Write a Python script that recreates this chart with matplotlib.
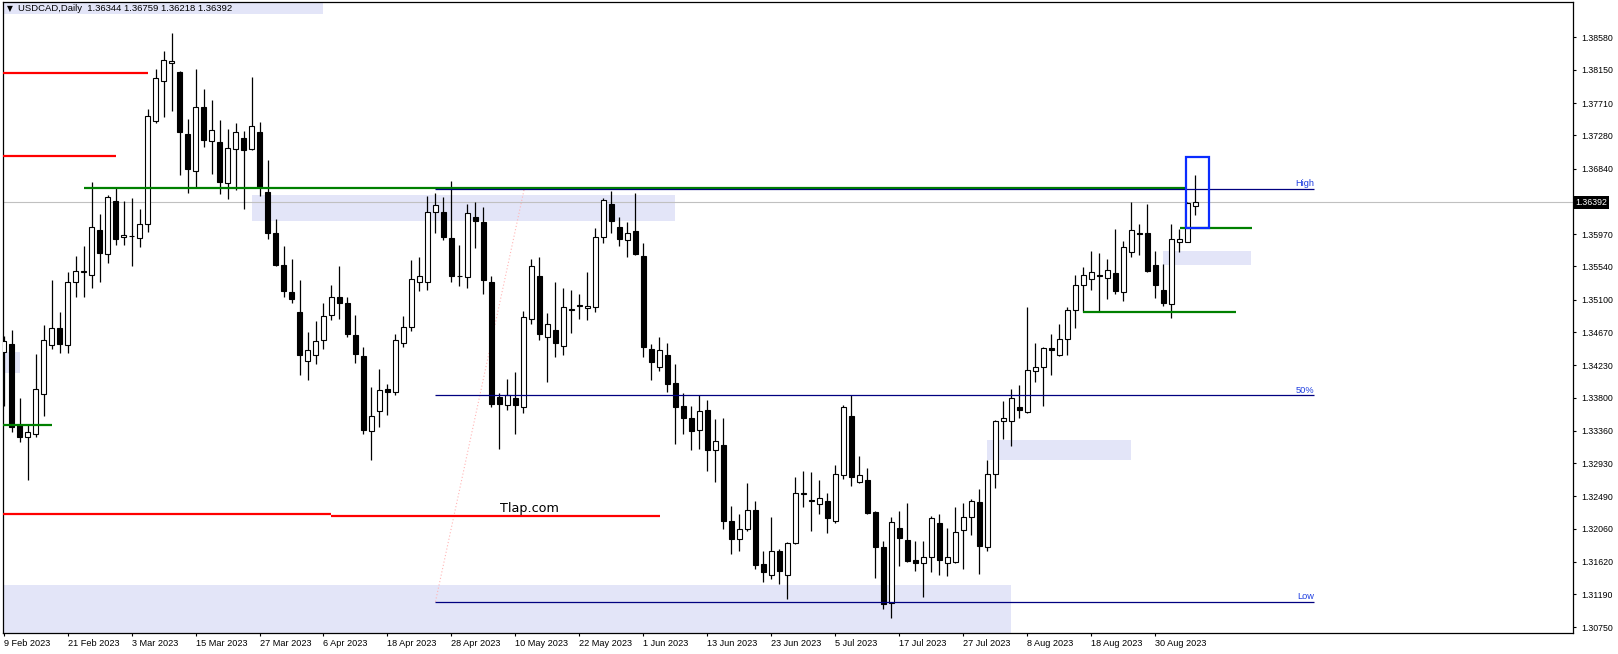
import numpy as np
import pandas as pd
import matplotlib
matplotlib.use("Agg")
import matplotlib.pyplot as plt
from matplotlib.patches import Rectangle
import matplotlib.transforms as mtransforms

plt.rcParams['font.family'] = ['Liberation Sans', 'DejaVu Sans']

# ---- data (USDCAD daily, 150 bars) ----
symbol = "USDCAD,Daily"
dates = pd.bdate_range(end="2023-09-06", periods=150)

opens = [
    1.3440, 1.3451, 1.3343, 1.3328, 1.3331, 1.3385, 1.3450, 1.3473, 1.3450, 1.3534,
    1.3547, 1.3543, 1.3602, 1.3570, 1.3641, 1.3593, 1.3594, 1.3592, 1.3611, 1.3747,
    1.3800, 1.3824, 1.3812, 1.3730, 1.3681, 1.3766, 1.3720, 1.3719, 1.3665, 1.3710,
    1.3725, 1.3710, 1.3732, 1.3653, 1.3598, 1.3556, 1.3520, 1.3494, 1.3429, 1.3437,
    1.3457, 1.3489, 1.3514, 1.3505, 1.3463, 1.3435, 1.3335, 1.3362, 1.3392, 1.3387,
    1.3453, 1.3474, 1.3533, 1.3534, 1.3627, 1.3626, 1.3592, 1.3542, 1.3540, 1.3620,
    1.3613, 1.3534, 1.3381, 1.3370, 1.3379, 1.3367, 1.3484, 1.3542, 1.3461, 1.3470,
    1.3448, 1.3498, 1.3502, 1.3499, 1.3500, 1.3593, 1.3637, 1.3607, 1.3589, 1.3601,
    1.3568, 1.3444, 1.3421, 1.3437, 1.3399, 1.3369, 1.3353, 1.3337, 1.3364, 1.3310,
    1.3317, 1.3216, 1.3192, 1.3206, 1.3231, 1.3159, 1.3144, 1.3177, 1.3145, 1.3187,
    1.3252, 1.3244, 1.3239, 1.3243, 1.3216, 1.3277, 1.3356, 1.3268, 1.3270, 1.3228,
    1.3182, 1.3107, 1.3207, 1.3191, 1.3165, 1.3160, 1.3168, 1.3214, 1.3161, 1.3162,
    1.3204, 1.3222, 1.3242, 1.3182, 1.3278, 1.3349, 1.3349, 1.3367, 1.3361, 1.3415,
    1.3421, 1.3446, 1.3436, 1.3458, 1.3496, 1.3529, 1.3537, 1.3543, 1.3539, 1.3546,
    1.3520, 1.3573, 1.3598, 1.3598, 1.3556, 1.3523, 1.3504, 1.3586, 1.3587, 1.36344,
]
highs = [
    1.3462, 1.3470, 1.3379, 1.3343, 1.3438, 1.3477, 1.3536, 1.3494, 1.3547, 1.3568,
    1.3581, 1.3666, 1.3624, 1.3649, 1.3659, 1.3641, 1.3645, 1.3630, 1.3763, 1.3816,
    1.3840, 1.3864, 1.3814, 1.3750, 1.3816, 1.3789, 1.3775, 1.3748, 1.3737, 1.3744,
    1.3734, 1.3806, 1.3746, 1.3696, 1.3617, 1.3581, 1.3564, 1.3536, 1.3467, 1.3482,
    1.3505, 1.3530, 1.3554, 1.3514, 1.3489, 1.3447, 1.3394, 1.3418, 1.3398, 1.3465,
    1.3488, 1.3562, 1.3566, 1.3647, 1.3651, 1.3646, 1.3668, 1.3582, 1.3637, 1.3639,
    1.3633, 1.3541, 1.3386, 1.3405, 1.3414, 1.3495, 1.3564, 1.3566, 1.3492, 1.3534,
    1.3525, 1.3523, 1.3518, 1.3547, 1.3605, 1.3645, 1.3654, 1.3620, 1.3613, 1.3651,
    1.3585, 1.3451, 1.3460, 1.3452, 1.3425, 1.3386, 1.3369, 1.3383, 1.3377, 1.3351,
    1.3353, 1.3236, 1.3225, 1.3267, 1.3243, 1.3176, 1.3222, 1.3179, 1.3188, 1.3275,
    1.3283, 1.3281, 1.3271, 1.3254, 1.3290, 1.3370, 1.3384, 1.3303, 1.3287, 1.3230,
    1.3190, 1.3222, 1.3229, 1.3240, 1.3190, 1.3190, 1.3223, 1.3225, 1.3207, 1.3235,
    1.3240, 1.3245, 1.3259, 1.3297, 1.3350, 1.3376, 1.3392, 1.3397, 1.3500, 1.3452,
    1.3447, 1.3465, 1.3478, 1.3500, 1.3543, 1.3553, 1.3574, 1.3572, 1.3564, 1.3604,
    1.3588, 1.3639, 1.3611, 1.3637, 1.3575, 1.3557, 1.3611, 1.3604, 1.3639, 1.36759,
]
lows = [
    1.3369, 1.3334, 1.3321, 1.3271, 1.3328, 1.3355, 1.3445, 1.3439, 1.3439, 1.3513,
    1.3514, 1.3526, 1.3533, 1.3559, 1.3583, 1.3582, 1.3555, 1.3580, 1.3600, 1.3744,
    1.3753, 1.3761, 1.3676, 1.3651, 1.3660, 1.3713, 1.3677, 1.3650, 1.3644, 1.3656,
    1.3630, 1.3708, 1.3648, 1.3591, 1.3555, 1.3513, 1.3506, 1.3410, 1.3403, 1.3424,
    1.3445, 1.3483, 1.3484, 1.3460, 1.3426, 1.3331, 1.3297, 1.3341, 1.3357, 1.3383,
    1.3447, 1.3469, 1.3521, 1.3523, 1.3598, 1.3589, 1.3533, 1.3528, 1.3526, 1.3579,
    1.3518, 1.3368, 1.3312, 1.3363, 1.3332, 1.3360, 1.3478, 1.3457, 1.3401, 1.3434,
    1.3437, 1.3466, 1.3484, 1.3483, 1.3494, 1.3585, 1.3599, 1.3581, 1.3567, 1.3569,
    1.3434, 1.3403, 1.3415, 1.3388, 1.3318, 1.3331, 1.3310, 1.3312, 1.3283, 1.3268,
    1.3206, 1.3173, 1.3176, 1.3203, 1.3153, 1.3135, 1.3139, 1.3132, 1.3112, 1.3185,
    1.3235, 1.3203, 1.3226, 1.3200, 1.3213, 1.3272, 1.3262, 1.3266, 1.3226, 1.3140,
    1.3099, 1.3088, 1.3156, 1.3162, 1.3150, 1.3115, 1.3149, 1.3145, 1.3143, 1.3161,
    1.3153, 1.3198, 1.3146, 1.3177, 1.3260, 1.3325, 1.3316, 1.3353, 1.3360, 1.3401,
    1.3369, 1.3410, 1.3435, 1.3437, 1.3473, 1.3494, 1.3523, 1.3494, 1.3511, 1.3518,
    1.3508, 1.3566, 1.3569, 1.3547, 1.3512, 1.3501, 1.3486, 1.3573, 1.3586, 1.36218,
]
closes = [
    1.3455, 1.3341, 1.3328, 1.3334, 1.3392, 1.3456, 1.3473, 1.3451, 1.3533, 1.3548,
    1.3548, 1.3606, 1.3572, 1.3646, 1.3590, 1.3596, 1.3595, 1.3611, 1.3754, 1.3804,
    1.3828, 1.3827, 1.3733, 1.3683, 1.3766, 1.3722, 1.3735, 1.3666, 1.3711, 1.3732,
    1.3709, 1.3740, 1.3660, 1.3599, 1.3556, 1.3521, 1.3511, 1.3436, 1.3443, 1.3455,
    1.3488, 1.3513, 1.3506, 1.3464, 1.3438, 1.3337, 1.3355, 1.3390, 1.3387, 1.3457,
    1.3474, 1.3538, 1.3541, 1.3626, 1.3636, 1.3593, 1.3542, 1.3541, 1.3625, 1.3615,
    1.3536, 1.3372, 1.3372, 1.3384, 1.3370, 1.3487, 1.3555, 1.3465, 1.3478, 1.3453,
    1.3500, 1.3496, 1.3503, 1.3501, 1.3593, 1.3642, 1.3615, 1.3590, 1.3599, 1.3570,
    1.3447, 1.3427, 1.3443, 1.3398, 1.3368, 1.3353, 1.3336, 1.3362, 1.3310, 1.3322,
    1.3216, 1.3192, 1.3206, 1.3231, 1.3158, 1.3148, 1.3177, 1.3150, 1.3187, 1.3254,
    1.3253, 1.3243, 1.3247, 1.3220, 1.3278, 1.3367, 1.3274, 1.3277, 1.3227, 1.3182,
    1.3106, 1.3215, 1.3194, 1.3163, 1.3160, 1.3169, 1.3220, 1.3164, 1.3169, 1.3202,
    1.3221, 1.3243, 1.3183, 1.3278, 1.3349, 1.3353, 1.3379, 1.3364, 1.3416, 1.3421,
    1.3446, 1.3443, 1.3458, 1.3496, 1.3529, 1.3543, 1.3547, 1.3542, 1.3549, 1.3522,
    1.3580, 1.3603, 1.3597, 1.3548, 1.3530, 1.3505, 1.3591, 1.3591, 1.3638, 1.36392,
]

price_ticks = [1.38580, 1.38150, 1.37710, 1.37280, 1.36840, 1.35970, 1.35540,
               1.35100, 1.34670, 1.34230, 1.33800, 1.33360, 1.32930, 1.32490,
               1.32060, 1.31620, 1.31190, 1.30750]

# objects drawn on the chart: (price, from bar, to bar)
red_levels = [(1.3811, -0.1, 18.1), (1.3701, -0.1, 14.1),
              (1.3225, -0.1, 41.0), (1.3223, 41.0, 82.1)]
green_levels = [(1.3658, 10.0, 147.9), (1.3343, -0.1, 6.1),
                (1.3605, 147.1, 156.1), (1.3494, 135.0, 154.1)]
# zones: (from bar, to bar, low price, high price)
zones = [(-0.1, 40.0, 1.3889, 1.3950), (-0.1, 2.0, 1.3413, 1.3440),
         (31.0, 84.0, 1.3615, 1.3649), (-0.1, 126.0, 1.3000, 1.3131),
         (123.0, 141.0, 1.3297, 1.3324), (145.0, 156.0, 1.3556, 1.3574)]
signal_box = (147.8, 150.7, 1.3605, 1.3699)
fibo_high, fibo_low = 1.3657, 1.3109
fibo_from, fibo_to, fibo_anchor = 54.0, 163.9, 65.1
watermark = "Tlap.com"


def main():
    W, H = 1618, 654
    fig = plt.figure(figsize=(W / 100, H / 100), dpi=100)
    fig.patch.set_facecolor('white')
    left, right, top, bottom = 3, 1572.7, 2, 633
    ax = fig.add_axes([left / W, (H - bottom) / H, (right - left) / W, (bottom - top) / H])

    o, h, l, c = map(np.array, (opens, highs, lows, closes))
    x = np.arange(len(o))

    # background zones
    for x0, x1, p0, p1 in zones:
        ax.add_patch(Rectangle((x0, p0), x1 - x0, p1 - p0, facecolor='#e3e5f8',
                               edgecolor='none', zorder=0))

    # candles
    ax.vlines(x, l, h, color='black', lw=0.9, zorder=2)
    up = c >= o
    body_lo = np.minimum(o, c)
    body_h = np.maximum(np.abs(c - o), 0.00003)
    ax.bar(x[up], body_h[up], bottom=body_lo[up], width=0.58, facecolor='white',
           edgecolor='black', lw=0.8, zorder=3)
    ax.bar(x[~up], body_h[~up], bottom=body_lo[~up], width=0.58, facecolor='black',
           edgecolor='black', lw=0.8, zorder=3)

    # current price line
    ax.axhline(closes[-1], color='#c0c0c0', lw=0.8, zorder=1)

    # trend levels
    for p, x0, x1 in red_levels:
        ax.hlines(p, x0, x1, color='#ff0000', lw=1.6, zorder=4)
    for p, x0, x1 in green_levels:
        ax.hlines(p, x0, x1, color='#008000', lw=1.6, zorder=4)

    # fibo object
    fibo_mid = (fibo_high + fibo_low) / 2
    ax.plot([fibo_from, fibo_anchor], [fibo_low, fibo_high], color='#ffb4b4',
            lw=0.8, ls=(0, (1, 2)), zorder=1)
    for p, name in [(fibo_high, "High"), (fibo_mid, "50%"), (fibo_low, "Low")]:
        ax.hlines(p, fibo_from, fibo_to, color='#000080', lw=0.9, zorder=4)
        ax.text(fibo_to, p + 0.0001, name, ha='right', va='bottom', fontsize=6.7,
                color='#1f3fe0', zorder=5)

    # signal box
    bx0, bx1, bp0, bp1 = signal_box
    ax.add_patch(Rectangle((bx0, bp0), bx1 - bx0, bp1 - bp0, facecolor='none',
                           edgecolor='#0a2cff', lw=1.6, zorder=5))

    ax.text(62.1, 1.3228, watermark, fontsize=9.2, family='DejaVu Sans',
            color='black', ha='left', va='baseline', zorder=5)

    # axes
    ax.set_xlim(-0.075, 196.2)
    ax.set_ylim(1.30675, 1.39051)
    ax.yaxis.tick_right()
    ax.set_yticks(price_ticks)
    ax.set_yticklabels([f"{p:.5f}" for p in price_ticks])
    tick_idx = list(range(0, len(dates), 8))
    ax.set_xticks(tick_idx)
    ax.set_xticklabels([f"{d.day} {d:%b %Y}" for d in dates[tick_idx]], ha='left')
    ax.tick_params(axis='y', direction='out', length=2.5, width=0.8, pad=3.5,
                   labelsize=6.3, colors='black')
    ax.tick_params(axis='x', direction='out', length=2.5, width=0.8, pad=1.5,
                   labelsize=6.6, colors='black')
    for s in ax.spines.values():
        s.set_color('black')
        s.set_linewidth(0.9)

    # current price tag on the axis
    trans = mtransforms.blended_transform_factory(ax.transAxes, ax.transData)
    ax.text(1.0015, closes[-1], f"{closes[-1]:.5f}", transform=trans, ha='left',
            va='center', fontsize=6.3, color='white', clip_on=False,
            bbox=dict(boxstyle='square,pad=0.2', facecolor='black', edgecolor='none'))

    # header
    fig.text(6.5 / W, 1 - 8.5 / H, "\u25bc", fontsize=5.5, family='DejaVu Sans',
             ha='left', va='center')
    fig.text(18.3 / W, 1 - 8.5 / H,
             f"{symbol}  {opens[-1]:.5f} {highs[-1]:.5f} {lows[-1]:.5f} {closes[-1]:.5f}",
             fontsize=6.8, ha='left', va='center')

    fig.savefig("out.png", dpi=100, facecolor='white')


if __name__ == "__main__":
    main()
